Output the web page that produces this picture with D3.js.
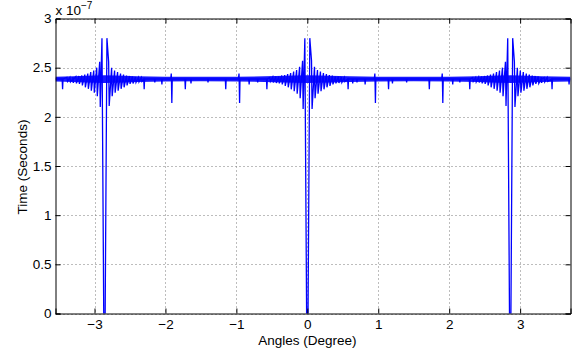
<!DOCTYPE html>
<html>
<head>
<meta charset="utf-8">
<script src="https://cdn.jsdelivr.net/npm/d3@7/dist/d3.min.js"></script>
<style>
  body { margin: 0; background: #fff; }
  text { font-family: "Liberation Sans", Arial, Helvetica, sans-serif; fill: #000; }
</style>
</head>
<body>
<svg id="chart" width="577" height="351"></svg>
<script>
// axis setup (values in units of 1e-7 s)
const xDomain = [-3.55, 3.71];
const yDomain = [0, 3];
const xTicks = [-3, -2, -1, 0, 1, 2, 3];
const yTicks = [0, 0.5, 1, 1.5, 2, 2.5, 3];
const yTickLabels = ["0", "0.5", "1", "1.5", "2", "2.5", "3"];

// level the signal rests at between the bursts
const baseLevel = 2.385;

// centres of the three bursts
const burstCenters = [-2.86, 0, 2.86];

// offsets of the oscillation bars from a burst centre
const barOffsets = [
  -0.525, -0.483, -0.441, -0.399, -0.357, -0.315, -0.273, -0.231, -0.189, -0.147, -0.105, -0.063,
  0.063, 0.105, 0.147, 0.189, 0.231, 0.273, 0.315, 0.357, 0.399, 0.441, 0.483, 0.525
];
// the middle of each burst: two tall peaks around a drop to zero
const coreOffsets = [-0.035, -0.01, 0.01, 0.035];
const coreValues = [2.80, 0, 0, 2.80];

// top and bottom of each bar, one list per burst
const barHiLeft = [2.40, 2.40, 2.405, 2.41, 2.415, 2.42, 2.43, 2.44, 2.455, 2.47, 2.50, 2.56,
  2.56, 2.50, 2.47, 2.455, 2.44, 2.43, 2.42, 2.415, 2.41, 2.405, 2.40, 2.40];
const barLoLeft = [2.36, 2.355, 2.35, 2.34, 2.335, 2.32, 2.30, 2.285, 2.265, 2.245, 2.21, 2.10,
  2.11, 2.21, 2.245, 2.265, 2.285, 2.30, 2.32, 2.335, 2.34, 2.35, 2.355, 2.36];
const barHiMiddle = [2.40, 2.405, 2.41, 2.41, 2.42, 2.425, 2.435, 2.445, 2.46, 2.475, 2.51, 2.57,
  2.57, 2.51, 2.475, 2.46, 2.445, 2.435, 2.425, 2.42, 2.41, 2.41, 2.405, 2.40];
const barLoMiddle = [2.36, 2.35, 2.345, 2.34, 2.33, 2.315, 2.30, 2.28, 2.26, 2.235, 2.19, 2.08,
  2.08, 2.19, 2.235, 2.26, 2.28, 2.30, 2.315, 2.33, 2.34, 2.345, 2.35, 2.36];
const barHiRight = [2.40, 2.40, 2.405, 2.41, 2.415, 2.42, 2.43, 2.44, 2.455, 2.47, 2.50, 2.56,
  2.56, 2.50, 2.47, 2.455, 2.44, 2.43, 2.42, 2.415, 2.41, 2.405, 2.40, 2.40];
const barLoRight = [2.36, 2.355, 2.35, 2.34, 2.335, 2.32, 2.30, 2.285, 2.265, 2.245, 2.21, 2.11,
  2.10, 2.21, 2.245, 2.265, 2.285, 2.30, 2.32, 2.335, 2.34, 2.35, 2.355, 2.36];
const barHi = [barHiLeft, barHiMiddle, barHiRight];
const barLo = [barLoLeft, barLoMiddle, barLoRight];

// downward glitches along the baseline
const spikeX = [-3.45, -3.30, -2.30, -2.15, -2.05, -1.91, -1.72, -1.64, -1.40, -1.15,
  -0.955, -0.82, -0.70, -0.57, 0.575, 0.64, 0.70, 0.815, 0.96, 1.145,
  1.20, 1.40, 1.72, 1.91, 2.05, 2.15, 2.29, 3.30, 3.45, 3.69];
const spikeY = [2.28, 2.35, 2.28, 2.35, 2.33, 2.14, 2.28, 2.34, 2.35, 2.28,
  2.14, 2.33, 2.35, 2.28, 2.28, 2.34, 2.35, 2.33, 2.14, 2.28,
  2.34, 2.35, 2.28, 2.14, 2.33, 2.35, 2.28, 2.35, 2.28, 2.33];

// small upward blips right before the deep glitches
const bumpX = [-1.91, -0.955, 0.96, 1.91];
const bumpY = [2.44, 2.44, 2.44, 2.44];

// thickness of the noisy baseline
const bandX = [-3.55, -3.3, -3.1, -2.86, -2.6, -2.4, -2.0, -1.5, -1.0, -0.6, -0.3, 0,
  0.3, 0.6, 1.0, 1.5, 2.0, 2.4, 2.6, 2.86, 3.1, 3.3, 3.71];
const bandHi = [2.407, 2.412, 2.417, 2.422, 2.417, 2.412, 2.407, 2.407, 2.407, 2.412, 2.417, 2.422,
  2.417, 2.412, 2.407, 2.407, 2.407, 2.412, 2.417, 2.422, 2.417, 2.412, 2.407];
const bandLo = [2.36, 2.355, 2.35, 2.345, 2.35, 2.355, 2.36, 2.362, 2.36, 2.355, 2.35, 2.345,
  2.35, 2.355, 2.36, 2.362, 2.36, 2.355, 2.35, 2.345, 2.35, 2.355, 2.36];

const WIDTH = 577;
const HEIGHT = 351;
const MARGIN = { top: 18.5, right: 6.5, bottom: 37.5, left: 55.5 };
const INNER_WIDTH = WIDTH - MARGIN.left - MARGIN.right;
const INNER_HEIGHT = HEIGHT - MARGIN.top - MARGIN.bottom;
const BLUE = "#0000ff";

const svg = d3.select("#chart")
  .append("g")
  .attr("transform", "translate(" + MARGIN.left + "," + MARGIN.top + ")");

const x = d3.scaleLinear().domain(xDomain).range([0, INNER_WIDTH]);
const y = d3.scaleLinear().domain(yDomain).range([INNER_HEIGHT, 0]);

// snap grid lines to whole pixels
const snapX = v => Math.round(x(v) + MARGIN.left) - MARGIN.left + 0.5;
const snapY = v => Math.round(y(v) + MARGIN.top) - MARGIN.top + 0.5;

// dotted grid
const grid = svg.append("g").attr("class", "grid");
grid.selectAll("line.vx")
  .data(xTicks)
  .enter()
  .append("line")
  .attr("x1", snapX)
  .attr("x2", snapX)
  .attr("y1", 0)
  .attr("y2", INNER_HEIGHT)
  .attr("stroke", "#7a7a7a")
  .attr("stroke-dasharray", "1,3");
grid.selectAll("line.hy")
  .data(yTicks)
  .enter()
  .append("line")
  .attr("x1", 0)
  .attr("x2", INNER_WIDTH)
  .attr("y1", snapY)
  .attr("y2", snapY)
  .attr("stroke", "#7a7a7a")
  .attr("stroke-dasharray", "1,3");

svg.append("clipPath")
  .attr("id", "plot-clip")
  .append("rect")
  .attr("x", 0)
  .attr("y", -1)
  .attr("width", INNER_WIDTH)
  .attr("height", INNER_HEIGHT + 1);

const plot = svg.append("g").attr("clip-path", "url(#plot-clip)");

// noisy baseline band
const bandData = bandX.map((d, i) => ({ x: d, lo: bandLo[i], hi: bandHi[i] }));
const band = d3.area()
  .x(d => x(d.x))
  .y0(d => y(d.lo))
  .y1(d => y(d.hi));
plot.append("path")
  .attr("fill", BLUE)
  .attr("fill-opacity", 0.9)
  .attr("d", band(bandData));

// build the trace
let points = [[xDomain[0], baseLevel], [xDomain[1], baseLevel]];
spikeX.forEach((sx, i) => {
  points.push([sx - 0.006, baseLevel], [sx, spikeY[i]], [sx + 0.006, baseLevel]);
});
bumpX.forEach((bx, i) => {
  points.push([bx - 0.016, baseLevel], [bx - 0.008, bumpY[i]]);
});
burstCenters.forEach((c, j) => {
  barOffsets.forEach((o, i) => {
    points.push([c + o - 0.004, barHi[j][i]], [c + o + 0.004, barLo[j][i]]);
  });
  coreOffsets.forEach((o, i) => points.push([c + o, coreValues[i]]));
});
points.sort((a, b) => a[0] - b[0]);

const line = d3.line()
  .x(d => x(d[0]))
  .y(d => y(d[1]))
  .curve(d3.curveLinear);

plot.append("path")
  .attr("fill", "none")
  .attr("stroke", BLUE)
  .attr("stroke-width", 1.3)
  .attr("d", line(points));

// axes, ticks pointing inwards on all four sides
const xAxis = d3.axisBottom(x)
  .tickValues(xTicks)
  .tickSize(-5)
  .tickPadding(6)
  .tickFormat(d => d < 0 ? "\u2212" + Math.abs(d) : String(d));
const xAxisTop = d3.axisTop(x).tickValues(xTicks).tickSize(-5).tickFormat("");
const yAxis = d3.axisLeft(y)
  .tickValues(yTicks)
  .tickSize(-5)
  .tickPadding(4)
  .tickFormat((d, i) => yTickLabels[i]);
const yAxisRight = d3.axisRight(y).tickValues(yTicks).tickSize(-5).tickFormat("");

svg.append("g")
  .attr("transform", "translate(0," + INNER_HEIGHT + ")")
  .call(xAxis);
svg.append("g").call(xAxisTop);
svg.append("g").call(yAxis);
svg.append("g")
  .attr("transform", "translate(" + INNER_WIDTH + ",0)")
  .call(yAxisRight);

svg.selectAll(".domain").attr("stroke", "#000");
svg.selectAll(".tick line").attr("stroke", "#000");
svg.selectAll(".tick text")
  .style("font-size", "13.5px")
  .style("font-family", "'Liberation Sans', Arial, sans-serif")
  .attr("fill", "#000");

// axis titles
svg.append("text")
  .attr("x", x(0))
  .attr("y", INNER_HEIGHT + 31)
  .style("text-anchor", "middle")
  .style("font-size", "13.5px")
  .text("Angles (Degree)");

svg.append("text")
  .attr("transform", "rotate(-90)")
  .attr("x", -(167 - MARGIN.top))
  .attr("y", 27 - MARGIN.left)
  .style("text-anchor", "middle")
  .style("font-size", "13.5px")
  .text("Time (Seconds)");

// exponent marker
const expo = svg.append("text")
  .attr("x", 0)
  .attr("y", -4)
  .style("font-size", "13.5px");
expo.append("tspan").text("x 10");
expo.append("tspan")
  .attr("dy", -6)
  .style("font-size", "10px")
  .text("\u22127");
</script>
</body>
</html>
